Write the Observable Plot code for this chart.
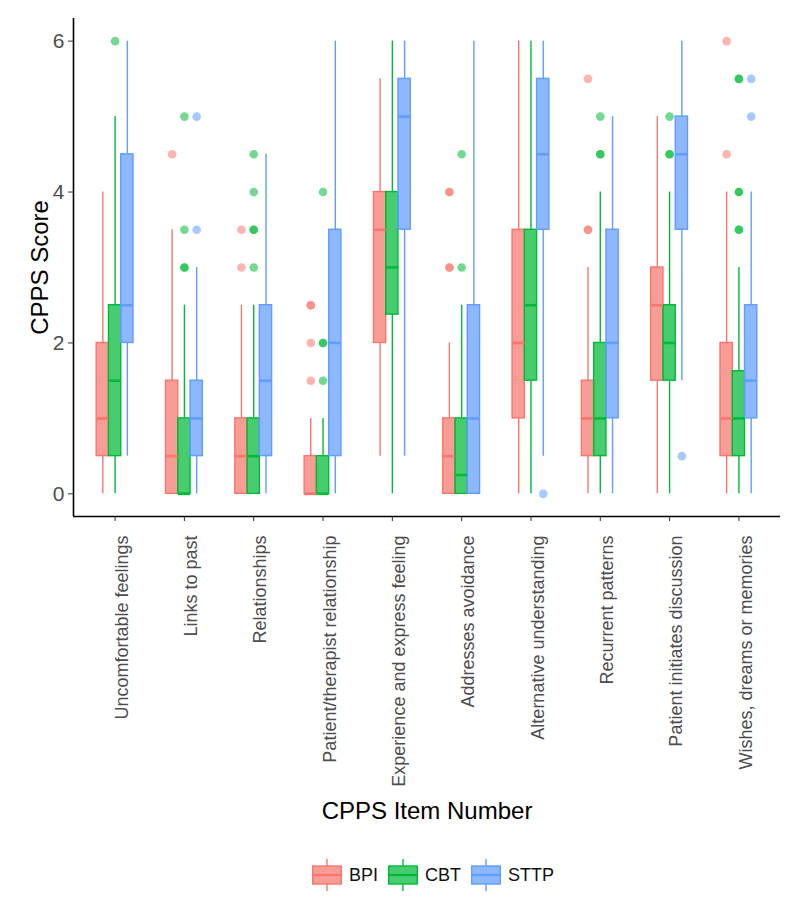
<!DOCTYPE html>
<html>
<head>
<meta charset="utf-8">
<script src="https://cdn.jsdelivr.net/npm/d3@7"></script>
<script src="https://cdn.jsdelivr.net/npm/@observablehq/plot@0.6"></script>
<style>
  html, body { margin: 0; padding: 0; background: #fff; }
  body { width: 800px; font-family: "Liberation Sans", Arial, sans-serif; }
  #legend { height: 50px; display: flex; align-items: center; padding-left: 312px; box-sizing: border-box; }
  .item { display: flex; align-items: center; margin-right: 10px; }
  .item span { font-size: 18px; color: #111; margin-left: 7px; }
</style>
</head>
<body>
<div id="chart"></div>
<div id="legend"></div>
<script>
// Categories (CPPS items) and groups
const categories = [
  "Uncomfortable feelings", "Links to past", "Relationships",
  "Patient/therapist relationship", "Experience and express feeling",
  "Addresses avoidance", "Alternative understanding", "Recurrent patterns",
  "Patient initiates discussion", "Wishes, dreams or memories"
];
const groups = ["BPI", "CBT", "STTP"];
const hues = ["#F8766D", "#00BA38", "#619CFF"];
const yTicks = [0, 2, 4, 6];

// Five-number summaries per item: [lower whisker, Q1, median, Q3, upper whisker]
const bpiStats = [
  [0, 0.5, 1, 2, 4], [0, 0, 0.5, 1.5, 3.5], [0, 0, 0.5, 1, 2.5], [0, 0, 0, 0.5, 1],
  [0.5, 2, 3.5, 4, 5.5], [0, 0, 0.5, 1, 2], [0, 1, 2, 3.5, 6], [0, 0.5, 1, 1.5, 3],
  [0, 1.5, 2.5, 3, 5], [0, 0.5, 1, 2, 4]
];
const cbtStats = [
  [0, 0.5, 1.5, 2.5, 5], [0, 0, 0, 1, 2.5], [0, 0, 0.5, 1, 2.5], [0, 0, 0, 0.5, 1],
  [0, 2.375, 3, 4, 6], [0, 0, 0.25, 1, 2.5], [0, 1.5, 2.5, 3.5, 6], [0, 0.5, 1, 2, 4],
  [0, 1.5, 2, 2.5, 4], [0, 0.5, 1, 1.625, 3]
];
const sttpStats = [
  [0.5, 2, 2.5, 4.5, 6], [0, 0.5, 1, 1.5, 3], [0, 0.5, 1.5, 2.5, 4.5], [0, 0.5, 2, 3.5, 6],
  [0.5, 3.5, 5, 5.5, 6], [0, 0, 1, 2.5, 6], [0.5, 3.5, 4.5, 5.5, 6], [0, 1, 2, 3.5, 5],
  [1.5, 3.5, 4.5, 5, 6], [0, 1, 1.5, 2.5, 4]
];

// Outliers per item (repeated values = overlapping points)
const bpiOutliers = [[], [4.5], [3.5, 3], [2.5, 2.5, 2, 1.5], [], [4, 4, 3, 3], [], [5.5, 3.5, 3.5], [], [6, 4.5]];
const cbtOutliers = [[6], [5, 3.5, 3, 3], [4.5, 4, 3.5, 3.5, 3], [4, 2, 2, 1.5], [], [4.5, 3], [], [5, 4.5, 4.5], [5, 4.5, 4.5], [5.5, 5.5, 4, 4, 3.5, 3.5]];
const sttpOutliers = [[], [5, 3.5], [], [], [], [], [0], [], [0.5], [5.5, 5]];

const statsByGroup = [bpiStats, cbtStats, sttpStats];
const outliersByGroup = [bpiOutliers, cbtOutliers, sttpOutliers];

const boxW = 0.177;           // width of one dodged box (x units)
const half = boxW / 2;

const boxes = [];
const points = [];
categories.forEach((cat, i) => {
  groups.forEach((g, j) => {
    const [lo, q1, med, q3, hi] = statsByGroup[j][i];
    const x = i + 1 + (j - 1) * boxW;
    boxes.push({cat, group: g, x, lo, q1, med, q3, hi});
    outliersByGroup[j][i].forEach(v => points.push({cat, group: g, x, value: v}));
  });
});

const font = "'Liberation Sans', Arial, sans-serif";
const xTickPos = d3.range(1, categories.length + 1);

const chart = Plot.plot({
  width: 800,
  height: 850,
  marginLeft: 73,
  marginRight: 20,
  marginTop: 18,
  marginBottom: 334,
  style: {fontFamily: font, background: "white", overflow: "visible"},
  x: {type: "linear", domain: [0.4, 10.6], axis: null},
  y: {domain: [-0.3, 6.3], axis: null},
  color: {domain: groups, range: hues, legend: false},
  marks: [
    // whiskers
    Plot.ruleX(boxes, {x: "x", y1: "lo", y2: "q1", stroke: "group", strokeWidth: 1.4}),
    Plot.ruleX(boxes, {x: "x", y1: "q3", y2: "hi", stroke: "group", strokeWidth: 1.4}),
    // boxes
    Plot.rect(boxes, {
      x1: d => d.x - half, x2: d => d.x + half, y1: "q1", y2: "q3",
      fill: "group", fillOpacity: 0.72, stroke: "group", strokeWidth: 1.4
    }),
    // medians
    Plot.ruleY(boxes, {x1: d => d.x - half, x2: d => d.x + half, y: "med", stroke: "group", strokeWidth: 2.6}),
    // outliers
    Plot.dot(points, {x: "x", y: "value", fill: "group", fillOpacity: 0.55, r: 4.3}),
    // axes
    Plot.axisY({ticks: yTicks, tickFormat: d3.format("d"), tickSize: 5, tickPadding: 4, fontSize: 21, fill: "#4d4d4d", stroke: "#333", label: null}),
    Plot.axisX({ticks: xTickPos, tickSize: 5, text: null, stroke: "#333", label: null}),
    Plot.axisX({
      ticks: xTickPos, tickFormat: i => categories[i - 1],
      tickRotate: -90, tickSize: 0, tickPadding: 19, fontSize: 18, fill: "#4d4d4d", label: null, dx: 7
    }),
    Plot.ruleX([0.4], {stroke: "#000", strokeWidth: 1.6}),
    Plot.ruleY([-0.3], {stroke: "#000", strokeWidth: 1.6}),
    // axis titles
    Plot.text(["CPPS Item Number"], {frameAnchor: "bottom", textAnchor: "middle", dy: 302, lineAnchor: "bottom", fontSize: 24, fill: "#000", text: d => d}),
    Plot.text(["CPPS Score"], {frameAnchor: "left", textAnchor: "middle", dx: -26, rotate: -90, lineAnchor: "bottom", fontSize: 24, fill: "#000", text: d => d})
  ]
});
document.getElementById("chart").append(chart);

// Legend (boxplot glyph keys)
const legend = document.getElementById("legend");
groups.forEach((g, j) => {
  const item = document.createElement("div");
  item.className = "item";
  const c = hues[j];
  item.innerHTML =
    `<svg width="30" height="32" viewBox="0 0 30 32">
      <line x1="15" y1="0" x2="15" y2="7" stroke="${c}" stroke-width="1.4"/>
      <line x1="15" y1="25" x2="15" y2="32" stroke="${c}" stroke-width="1.4"/>
      <rect x="0.7" y="7" width="28.6" height="18" fill="${c}" fill-opacity="0.72" stroke="${c}" stroke-width="1.4"/>
      <line x1="0.7" y1="16" x2="29.3" y2="16" stroke="${c}" stroke-width="2.2"/>
    </svg><span>${g}</span>`;
  legend.append(item);
});
</script>
</body>
</html>
